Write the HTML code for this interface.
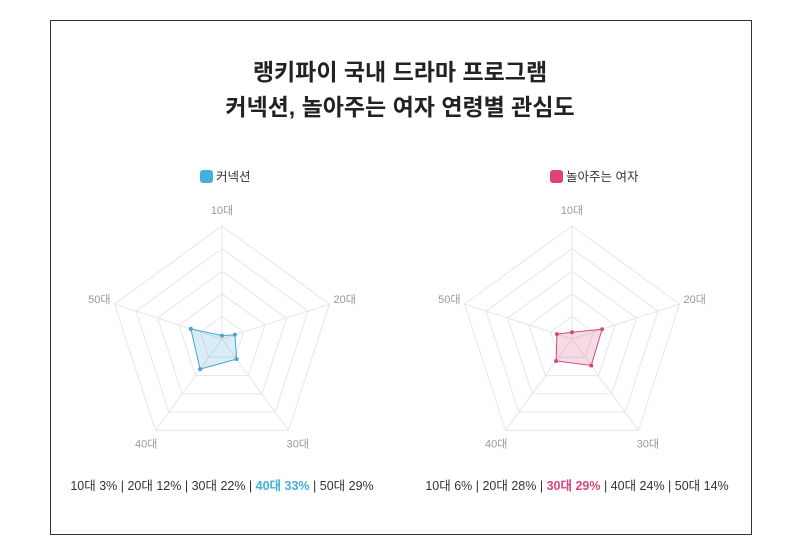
<!DOCTYPE html>
<html><head><meta charset="utf-8"><style>
body{margin:0;background:#fff;width:800px;height:554px;overflow:hidden;font-family:"Liberation Sans","Noto Sans CJK KR",sans-serif}
#frame{position:absolute;left:50px;top:20px;width:700px;height:513px;border:1px solid #333}
</style></head><body>
<div id="frame"></div>
<svg id="svg" width="800" height="554" style="position:absolute;left:0;top:0" font-family="Liberation Sans, Noto Sans CJK KR, sans-serif">
<text x="400" y="80" text-anchor="middle" font-size="23" font-weight="bold" fill="#222">랭키파이 국내 드라마 프로그램</text>
<text x="400" y="115" text-anchor="middle" font-size="23" font-weight="bold" fill="#222">커넥션, 놀아주는 여자 연령별 관심도</text>
<g id="charts"></g>
<text x="222" y="490" text-anchor="middle" font-size="12.5" fill="#333">10대 3% | 20대 12% | 30대 22% | <tspan fill="#45b0dc" font-weight="bold">40대 33%</tspan> | 50대 29%</text>
<text x="577" y="490" text-anchor="middle" font-size="12.5" fill="#333">10대 6% | 20대 28% | <tspan fill="#d9457f" font-weight="bold">30대 29%</tspan> | 40대 24% | 50대 14%</text>
</svg>
<script>
const categories=["10대","20대","30대","40대","50대"];
const seriesConnection=[3,12,22,33,29];
const seriesWoman=[6,28,29,24,14];
const maxValue=100;
const ns="http://www.w3.org/2000/svg";
const g=document.getElementById('charts');
function mk(t,a,p){const e=document.createElementNS(ns,t);for(const k in a)e.setAttribute(k,a[k]);(p||g).appendChild(e);return e;}
function radar(cx,cy,R,vals,name,stroke,fill,legendColor,key){
  const pt=(i,r)=>{const a=-Math.PI/2+i*2*Math.PI/categories.length;return [cx+r*Math.cos(a),cy+r*Math.sin(a)];};
  for(let l=1;l<=5;l++){
    const p=mk('polygon',{points:categories.map((c,i)=>pt(i,R*l/5).join(',')).join(' '),fill:'none',stroke:'#e6e6e6','stroke-width':1});
    
    
  }
  categories.forEach((c,i)=>{
    const [x,y]=pt(i,R);
    const ln=mk('line',{x1:cx,y1:cy,x2:x,y2:y,stroke:'#e6e6e6'});
    
    
    const [lx,ly]=pt(i,R+16);
    const t=mk('text',{x:lx,y:ly+4,'text-anchor':'middle','font-size':11,fill:'#999'});
    t.textContent=c;
    
    
  });
  const poly=mk('polygon',{points:vals.map((v,i)=>pt(i,R*v/maxValue).join(',')).join(' '),fill:fill,stroke:stroke,'stroke-width':1});
  
  
  vals.forEach((v,i)=>{
    const [x,y]=pt(i,R*v/maxValue);
    const c=mk('circle',{cx:x,cy:y,r:2,fill:stroke});
    
    
  });
  const lg=mk('rect',{x:cx-22,y:170,width:13,height:13,rx:3,fill:legendColor});
  
  
  const lt=mk('text',{x:cx-6,y:181,'font-size':12.5,fill:'#333'});
  lt.textContent=name;
  
  
}
radar(222,339,113,seriesConnection,'커넥션','#45a5d0','rgba(69,165,208,0.2)','#45b0dc','connection');
radar(572,339,113,seriesWoman,'놀아주는 여자','#d04a80','rgba(208,74,128,0.2)','#e0407c','woman');
</script>
</body></html>
